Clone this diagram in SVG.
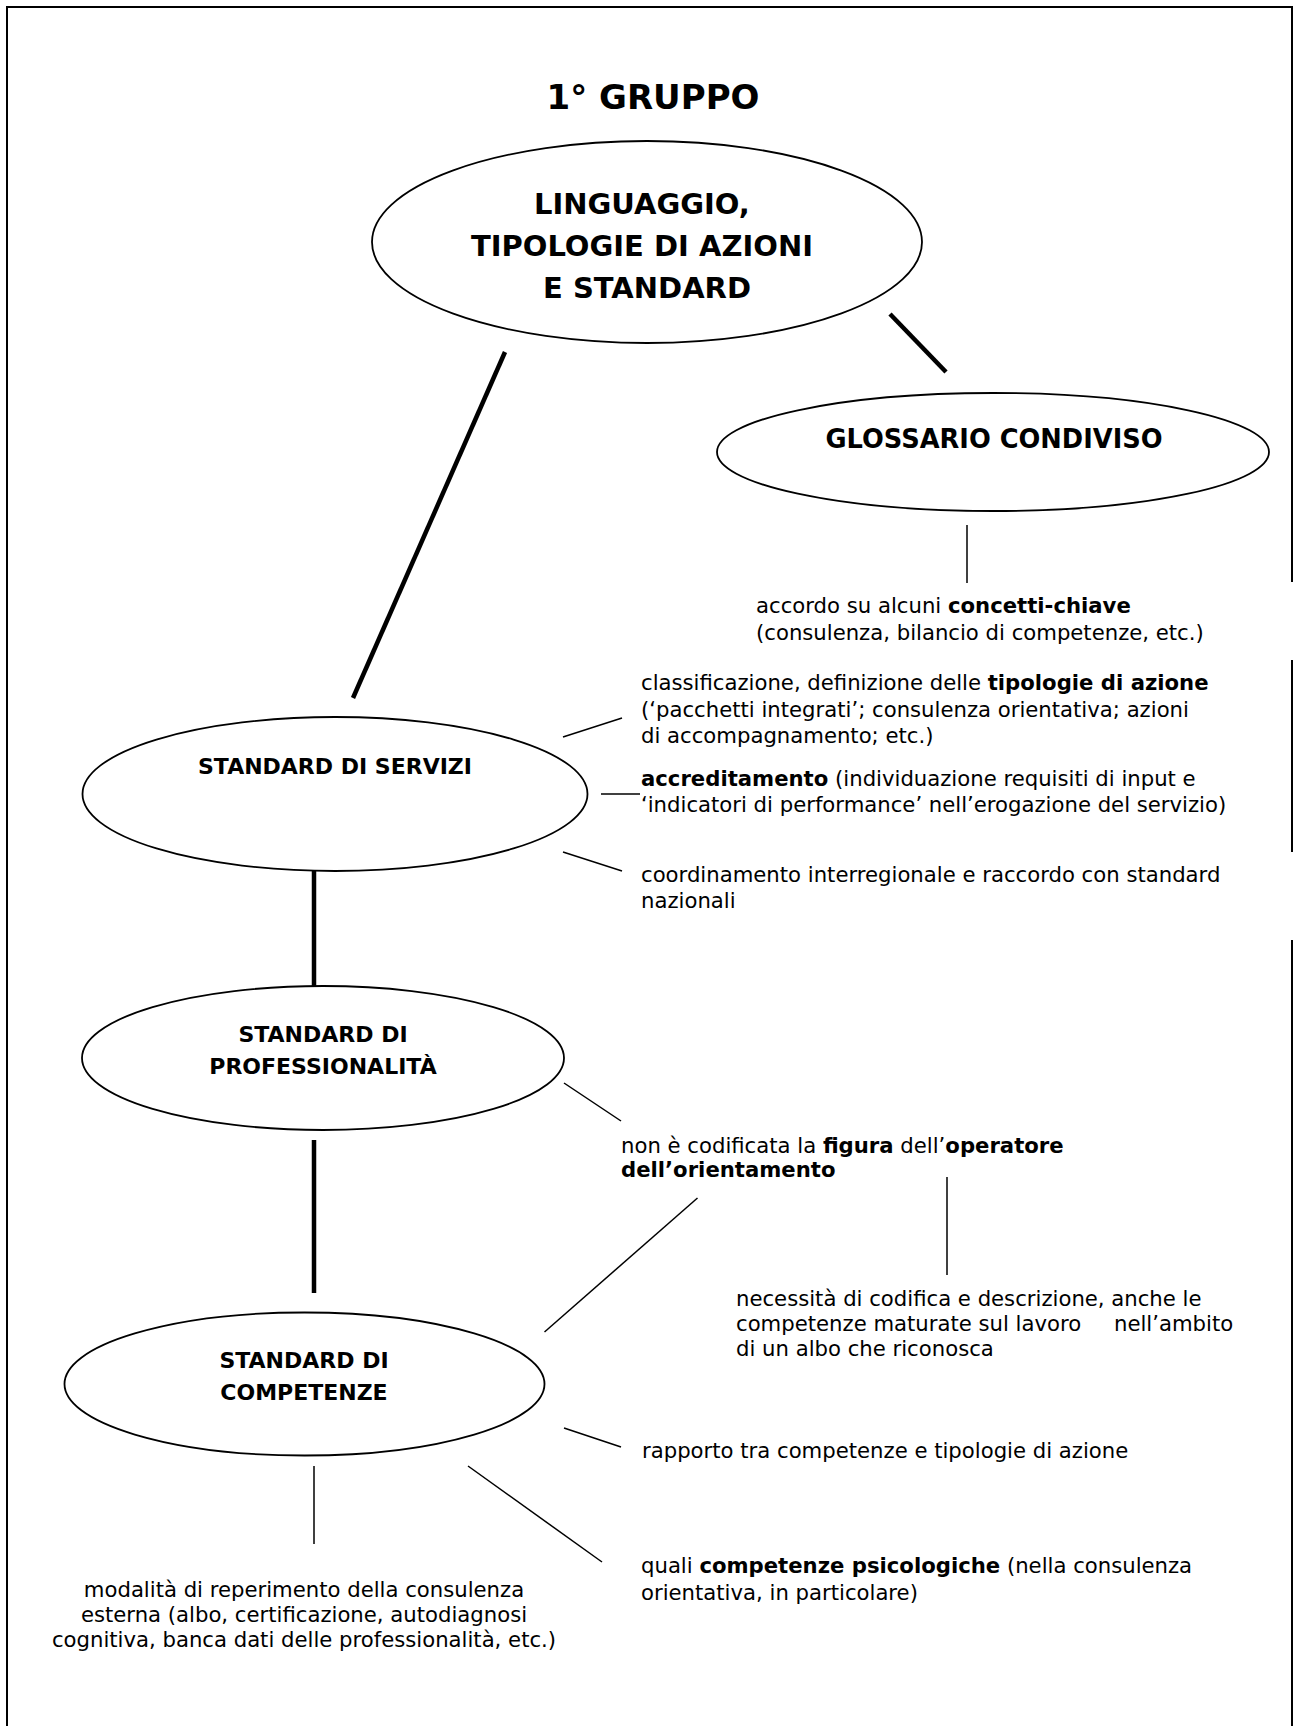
<svg xmlns="http://www.w3.org/2000/svg" width="1294" height="1726" viewBox="0 0 1294 1726">
<style>
text{font-family:"DejaVu Sans",Verdana,sans-serif;fill:#000}
.t{font-size:21.2px}
.lbl{font-size:22px;font-weight:bold;text-anchor:middle}
.b{font-weight:bold}
.node{fill:#fff;stroke:#000;stroke-width:1.8}
.thick{stroke:#000;stroke-width:4.5;fill:none}
.thin{stroke:#000;stroke-width:1.5;fill:none}
.frame{stroke:#000;stroke-width:2;fill:none}
</style>
<rect width="1294" height="1726" fill="#fff"/>
<g id="frame">
<path class="frame" d="M7,1726 V7 H1292 V582 M1292,660 V852 M1292,940 V1726"/>
</g>
<g id="title">
<text x="653" y="109" font-size="34" font-weight="bold" text-anchor="middle">1° GRUPPO</text>
</g>
<g id="connectors">
<line class="thick" x1="505" y1="352" x2="353" y2="698"/>
<line class="thick" x1="890" y1="314" x2="946" y2="372"/>
<line class="thin" x1="967" y1="525" x2="967" y2="583"/>
<line class="thin" x1="563" y1="737" x2="622" y2="718"/>
<line class="thin" x1="601" y1="794" x2="640" y2="794"/>
<line class="thin" x1="563" y1="852" x2="622" y2="871"/>
<line class="thick" x1="314" y1="871" x2="314" y2="986"/>
<line class="thin" x1="564" y1="1083" x2="621" y2="1121"/>
<line class="thick" x1="314" y1="1140" x2="314" y2="1293"/>
<line class="thin" x1="697.5" y1="1198" x2="544.5" y2="1332"/>
<line class="thin" x1="947" y1="1177" x2="947" y2="1275"/>
<line class="thin" x1="564" y1="1428" x2="621" y2="1447"/>
<line class="thin" x1="468" y1="1466" x2="602" y2="1562"/>
<line class="thin" x1="314" y1="1466" x2="314" y2="1544"/>
</g>
<g id="n-linguaggio">
<ellipse class="node" cx="647" cy="242" rx="275" ry="101"/>
<text font-size="29" font-weight="bold" text-anchor="middle">
<tspan x="647" y="214">LINGUAGGIO,</tspan>
<tspan x="647" y="256">TIPOLOGIE DI AZIONI</tspan>
<tspan x="647" y="298">E STANDARD</tspan>
</text>
</g>
<g id="n-glossario">
<ellipse class="node" cx="993" cy="452" rx="276" ry="59"/>
<text x="994" y="448" font-size="25.7" font-weight="bold" text-anchor="middle">GLOSSARIO CONDIVISO</text>
</g>
<g id="t-accordo">
<text class="t"><tspan x="756" y="613">accordo su alcuni <tspan class="b">concetti-chiave</tspan></tspan><tspan x="756" y="640">(consulenza, bilancio di competenze, etc.)</tspan></text>
</g>
<g id="n-servizi">
<ellipse class="node" cx="335" cy="794" rx="252.5" ry="77"/>
<text class="lbl" x="335" y="774">STANDARD DI SERVIZI</text>
</g>
<g id="t-classificazione">
<text class="t"><tspan x="641" y="690">classificazione, definizione delle <tspan class="b">tipologie di azione</tspan></tspan><tspan x="641" y="716.5">(‘pacchetti integrati’; consulenza orientativa; azioni</tspan><tspan x="641" y="743">di accompagnamento; etc.)</tspan></text>
</g>
<g id="t-accreditamento">
<text class="t"><tspan x="641" y="786"><tspan class="b">accreditamento</tspan> (individuazione requisiti di input e</tspan><tspan x="641" y="812">‘indicatori di performance’ nell’erogazione del servizio)</tspan></text>
</g>
<g id="t-coordinamento">
<text class="t"><tspan x="641" y="882">coordinamento interregionale e raccordo con standard</tspan><tspan x="641" y="908">nazionali</tspan></text>
</g>
<g id="n-professionalita">
<ellipse class="node" cx="323" cy="1058" rx="241" ry="72"/>
<text class="lbl"><tspan x="323" y="1042">STANDARD DI</tspan><tspan x="323" y="1074">PROFESSIONALITÀ</tspan></text>
</g>
<g id="t-operatore">
<text class="t"><tspan x="621" y="1153">non è codificata la <tspan class="b">figura</tspan> dell’<tspan class="b">operatore</tspan></tspan><tspan x="621" y="1177" class="b">dell’orientamento</tspan></text>
</g>
<g id="t-necessita">
<text class="t"><tspan x="736" y="1306">necessità di codifica e descrizione, anche le</tspan><tspan x="736" y="1331">competenze maturate sul lavoro</tspan><tspan x="1114" y="1331">nell’ambito</tspan><tspan x="736" y="1356">di un albo che riconosca</tspan></text>
</g>
<g id="n-competenze">
<ellipse class="node" cx="304.5" cy="1384" rx="240" ry="71.5"/>
<text class="lbl"><tspan x="304" y="1368">STANDARD DI</tspan><tspan x="304" y="1400">COMPETENZE</tspan></text>
</g>
<g id="t-rapporto">
<text class="t" x="642" y="1458">rapporto tra competenze e tipologie di azione</text>
</g>
<g id="t-quali">
<text class="t"><tspan x="641" y="1573">quali <tspan class="b">competenze psicologiche</tspan> (nella consulenza</tspan><tspan x="641" y="1600">orientativa, in particolare)</tspan></text>
</g>
<g id="t-modalita">
<text class="t" text-anchor="middle"><tspan x="304" y="1597">modalità di reperimento della consulenza</tspan><tspan x="304" y="1622">esterna (albo, certificazione, autodiagnosi</tspan><tspan x="304" y="1647">cognitiva, banca dati delle professionalità, etc.)</tspan></text>
</g>
</svg>
